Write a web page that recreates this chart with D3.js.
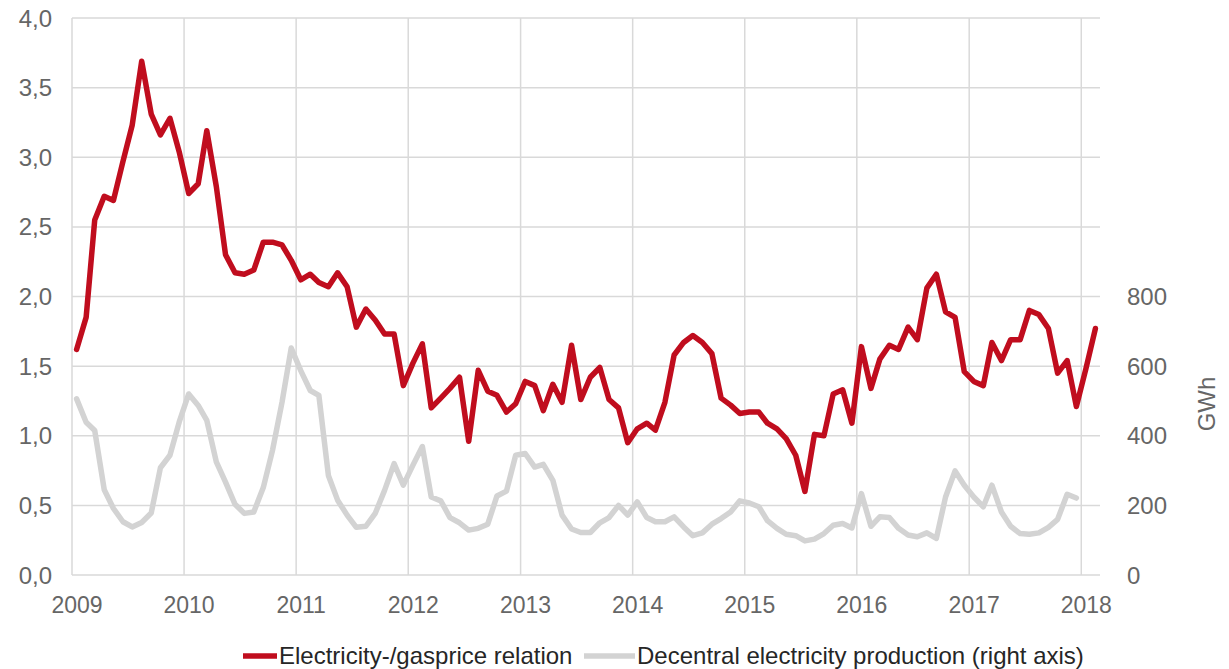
<!DOCTYPE html>
<html>
<head>
<meta charset="utf-8">
<script src="https://cdn.jsdelivr.net/npm/d3@7"></script>
<style>
  body { margin: 0; background: #fff; }
  text { font-family: "Liberation Sans", Arial, sans-serif; }
</style>
</head>
<body>
<svg id="chart" width="1229" height="669"></svg>
<script>
"use strict";

// Data //////////////////////////////////////////////////
// monthly values, Jan 2009 onwards
var priceRelation = [
  1.62, 1.85, 2.55, 2.72, 2.69, 2.97, 3.23, 3.69, 3.31, 3.16, 3.28, 3.04,
  2.74, 2.81, 3.19, 2.79, 2.30, 2.17, 2.16, 2.19, 2.39, 2.39, 2.37, 2.26,
  2.12, 2.16, 2.10, 2.07, 2.17, 2.07, 1.78, 1.91, 1.83, 1.73, 1.73, 1.36,
  1.52, 1.66, 1.20, 1.27, 1.34, 1.42, 0.96, 1.47, 1.32, 1.29, 1.17, 1.23,
  1.39, 1.36, 1.18, 1.37, 1.24, 1.65, 1.26, 1.42, 1.49, 1.26, 1.20, 0.95,
  1.05, 1.09, 1.04, 1.24, 1.58, 1.67, 1.72, 1.67, 1.59, 1.27, 1.22, 1.16,
  1.17, 1.17, 1.09, 1.05, 0.98, 0.86, 0.60, 1.01, 1.00, 1.30, 1.33, 1.09,
  1.64, 1.34, 1.55, 1.65, 1.62, 1.78, 1.69, 2.06, 2.16, 1.89, 1.85, 1.46,
  1.39, 1.36, 1.67, 1.54, 1.69, 1.69, 1.90, 1.87, 1.77, 1.45, 1.54, 1.21,
  1.48, 1.77
];

var decentralProduction = [
  506, 439, 415, 245, 191, 153, 138, 151, 178, 308, 344, 439,
  520, 487, 444, 325, 267, 203, 177, 181, 251, 358, 496, 652,
  587, 530, 516, 286, 215, 172, 137, 140, 178, 243, 320, 258,
  315, 369, 224, 213, 165, 150, 129, 134, 146, 227, 241, 344,
  349, 310, 318, 272, 172, 132, 122, 122, 150, 165, 200, 172,
  210, 165, 153, 153, 167, 138, 113, 121, 146, 162, 181, 213,
  207, 196, 156, 134, 117, 113, 98, 103, 119, 143, 148, 135,
  234, 140, 167, 165, 134, 115, 110, 121, 105, 224, 299, 258,
  224, 196, 258, 181, 140, 119, 117, 121, 137, 160, 232, 221
];

var leftTicks = [0, 0.5, 1, 1.5, 2, 2.5, 3, 3.5, 4];
var rightTicks = [0, 200, 400, 600, 800];
var yearTicks = [2009, 2010, 2011, 2012, 2013, 2014, 2015, 2016, 2017, 2018];

var seriesNames = ["Electricity-/gasprice relation", "Decentral electricity production (right axis)"];
var seriesColors = ["#c00d1e", "#d3d3d3"];

(function() {

  // Setup ///////////////////////////////////////////////
  var svg = d3.select("#chart"),
      plotLeft = 72, plotRight = 1100, plotTop = 18, plotBottom = 575;

  var monthDate = function(i) { return new Date(2009, i, 16); };

  var x = d3.scaleTime()
      .domain([new Date(2009, 0, 1), new Date(2018, 2, 3)])
      .range([plotLeft, plotRight]);

  var yLeft = d3.scaleLinear().domain([0, 4]).range([plotBottom, plotTop]);
  var yRight = d3.scaleLinear().domain([0, 1600]).range([plotBottom, plotTop]);

  var fmtComma = function(d) { return d3.format(".1f")(d).replace(".", ","); };

  // Grid ////////////////////////////////////////////////
  svg.append("g")
      .selectAll("line")
      .data(leftTicks)
      .enter().append("line")
      .attr("x1", plotLeft).attr("x2", plotRight)
      .attr("y1", function(d) { return yLeft(d); })
      .attr("y2", function(d) { return yLeft(d); })
      .attr("stroke", "#d9d9d9")
      .attr("stroke-width", 1.5);

  svg.append("g")
      .selectAll("line")
      .data(yearTicks)
      .enter().append("line")
      .attr("x1", function(d) { return x(new Date(d, 0, 1)); })
      .attr("x2", function(d) { return x(new Date(d, 0, 1)); })
      .attr("y1", plotTop).attr("y2", plotBottom)
      .attr("stroke", "#d9d9d9")
      .attr("stroke-width", 1.5);

  // Axis labels /////////////////////////////////////////
  svg.append("g")
      .selectAll("text")
      .data(leftTicks)
      .enter().append("text")
      .attr("x", 52)
      .attr("y", function(d) { return yLeft(d) + 8.5; })
      .attr("text-anchor", "end")
      .attr("fill", "#666")
      .attr("font-size", 24)
      .text(fmtComma);

  svg.append("g")
      .selectAll("text")
      .data(rightTicks)
      .enter().append("text")
      .attr("x", 1127)
      .attr("y", function(d) { return yRight(d) + 8.5; })
      .attr("fill", "#666")
      .attr("font-size", 24)
      .text(function(d) { return d; });

  svg.append("g")
      .selectAll("text")
      .data(yearTicks)
      .enter().append("text")
      .attr("x", function(d) { return x(new Date(d, 0, 1)) + 5; })
      .attr("y", 613)
      .attr("text-anchor", "middle")
      .attr("fill", "#666")
      .attr("font-size", 23)
      .text(function(d) { return d; });

  svg.append("text")
      .attr("transform", "translate(1215,404) rotate(-90)")
      .attr("text-anchor", "middle")
      .attr("fill", "#666")
      .attr("font-size", 24)
      .text("GWh");

  // Lines ///////////////////////////////////////////////
  var lineRight = d3.line()
      .x(function(d, i) { return x(monthDate(i)); })
      .y(function(d) { return yRight(d); });

  var lineLeft = d3.line()
      .x(function(d, i) { return x(monthDate(i)); })
      .y(function(d) { return yLeft(d); });

  svg.append("path")
      .datum(decentralProduction)
      .attr("d", lineRight)
      .attr("fill", "none")
      .attr("stroke", seriesColors[1])
      .attr("stroke-width", 5.5)
      .attr("stroke-linejoin", "round")
      .attr("stroke-linecap", "round");

  svg.append("path")
      .datum(priceRelation)
      .attr("d", lineLeft)
      .attr("fill", "none")
      .attr("stroke", seriesColors[0])
      .attr("stroke-width", 5.5)
      .attr("stroke-linejoin", "round")
      .attr("stroke-linecap", "round");

  // Legend //////////////////////////////////////////////
  var legendX = [243, 584],
      swatchW = [34, 51];
  var legend = svg.append("g")
      .selectAll("g")
      .data(seriesNames)
      .enter().append("g")
      .attr("transform", function(d, i) { return "translate(" + legendX[i] + ",656)"; });

  legend.append("line")
      .attr("x1", 0)
      .attr("x2", function(d, i) { return swatchW[i]; })
      .attr("stroke", function(d, i) { return seriesColors[i]; })
      .attr("stroke-width", 5.5);

  legend.append("text")
      .attr("x", function(d, i) { return swatchW[i] + 2; })
      .attr("y", 8)
      .attr("fill", "#262626")
      .attr("font-size", 24)
      .text(function(d) { return d; });

})();
</script>
</body>
</html>
